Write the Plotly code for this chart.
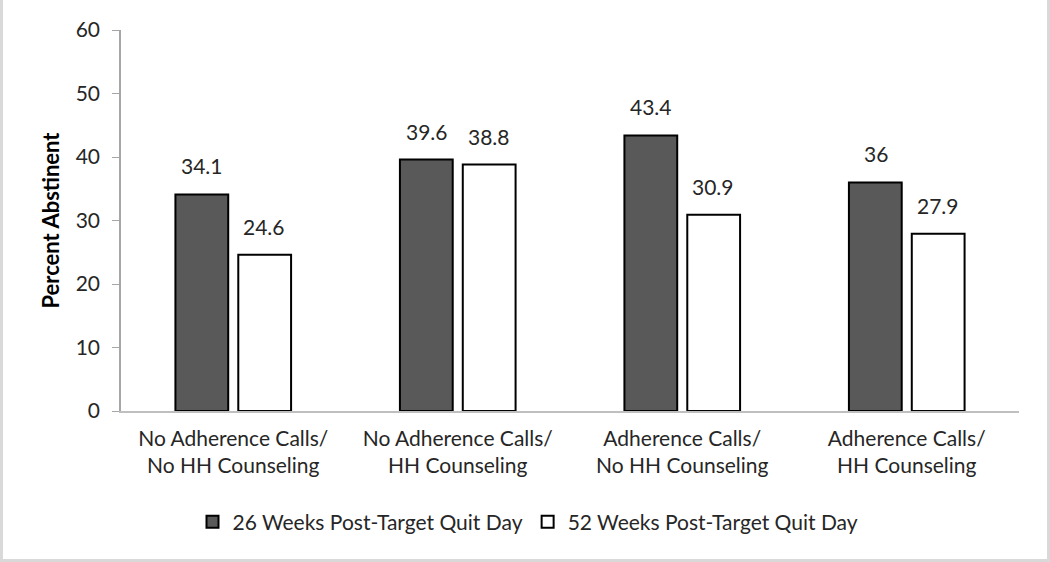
import plotly.graph_objects as go

categories = ["No Adherence Calls/<br>No HH Counseling", "No Adherence Calls/<br>HH Counseling",
              "Adherence Calls/<br>No HH Counseling", "Adherence Calls/<br>HH Counseling"]
series_names = ["26 Weeks Post-Target Quit Day", "52 Weeks Post-Target Quit Day"]
wk26 = [34.1, 39.6, 43.4, 36]
wk52 = [24.6, 38.8, 30.9, 27.9]
y_ticks = [0, 10, 20, 30, 40, 50, 60]

FONT = "Lato"
TXT = "#262626"
L, R, T, B = 121, 31, 30, 151
W, H = 1050, 562
pw, ph = W - L - R, H - T - B

fig = go.Figure()
fig.add_trace(go.Bar(x=categories, y=wk26, name=series_names[0],
                     marker=dict(color="#595959", line=dict(color="black", width=2))))
fig.add_trace(go.Bar(x=categories, y=wk52, name=series_names[1],
                     marker=dict(color="white", line=dict(color="black", width=2))))

annotations = []
for vals, shift in ((wk26, -31), (wk52, 31)):
    for c, v in zip(categories, vals):
        annotations.append(dict(x=c, y=v, xref="x", yref="y", text=f"{v:g}", showarrow=False,
                                xshift=shift, yshift=14, yanchor="bottom",
                                font=dict(family=FONT, size=21, color=TXT)))

fig.update_layout(
    width=W, height=H,
    margin=dict(l=L, r=R, t=T, b=B),
    paper_bgcolor="white", plot_bgcolor="white",
    barmode="group", bargap=0.44, bargroupgap=0.16,
    font=dict(family=FONT, size=21, color=TXT),
    annotations=annotations,
    legend=dict(orientation="h", x=(528 - L) / pw, xanchor="center", y=-(522 - T - ph) / ph,
                yanchor="middle", font=dict(family=FONT, size=21, color=TXT),
                itemwidth=30, traceorder="normal"),
    shapes=[dict(type="rect", xref="paper", yref="paper",
                 x0=-(L - 1.5) / pw, x1=(W - L - 1.5) / pw,
                 y0=-(B - 1.5) / ph, y1=(H - T - 1.5) / ph,
                 line=dict(color="#d9d9d9", width=3), fillcolor="rgba(0,0,0,0)", layer="below")],
)
fig.update_xaxes(showline=True, linecolor="#bfbfbf", linewidth=1.5, ticks="", showgrid=False,
                 ticklabelstandoff=8,
                 tickfont=dict(family=FONT, size=21, color=TXT))
fig.update_yaxes(range=[0, 60], tickvals=y_ticks, showline=True, linecolor="#a6a6a6", linewidth=1.5,
                 ticks="outside", ticklen=7, tickcolor="#a6a6a6", showgrid=False, zeroline=False,
                 ticklabelstandoff=8,
                 tickfont=dict(family=FONT, size=21, color=TXT),
                 title=dict(text="<b>Percent Abstinent</b>", font=dict(family=FONT, size=22, color="black"),
                            standoff=10))
fig.write_html("out.html", config={"displayModeBar": False},
               post_script="document.body.style.margin='0';document.body.style.padding='0';")
